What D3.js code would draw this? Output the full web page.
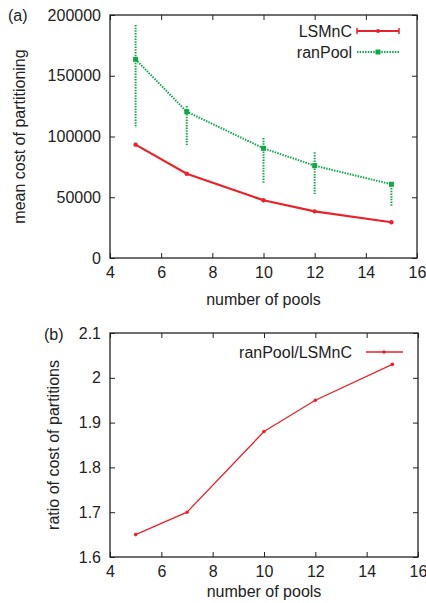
<!DOCTYPE html>
<html>
<head>
<meta charset="utf-8">
<script src="https://cdn.jsdelivr.net/npm/d3@7"></script>
<style>
  body { margin: 0; background: #fff; }
  svg { font-family: "Liberation Sans", Arial, sans-serif; }
</style>
</head>
<body>
<svg width="426" height="603"></svg>
<script>
const pools = [5, 7, 10, 12, 15];
const lsmncCost = [93300, 69400, 47500, 38400, 29400];
const ranPoolCost = [163500, 120400, 90300, 76000, 60700];
const ranPoolHigh = [191800, 125100, 98800, 87000, 62000];
const ranPoolLow = [107200, 93000, 61700, 52700, 42800];
const costRatio = [1.65, 1.70, 1.88, 1.95, 2.03];

const xTicks = [4, 6, 8, 10, 12, 14, 16];
const costTicks = [0, 50000, 100000, 150000, 200000];
const ratioTicks = [1.6, 1.7, 1.8, 1.9, 2.0, 2.1];

const red = '#e8232b';
const green = '#12a84a';
const fs = 16;

const svg = d3.select('svg');
svg.append('rect').attr('width', 426).attr('height', 603).attr('fill', '#fff');

const drawFrame = (g, xScale, yScale, yTicks, yFmt, innerW, innerH) => {
    const tick = 5;
    g.append('g').attr('class', 'axis')
        .attr('transform', `translate(0,${innerH})`)
        .call(d3.axisBottom(xScale).tickValues(xTicks).tickSize(-tick).tickPadding(9).tickFormat(d3.format('d')));
    g.append('g').attr('class', 'axis')
        .call(d3.axisTop(xScale).tickValues(xTicks).tickSize(-tick).tickFormat(''));
    g.append('g').attr('class', 'axis')
        .call(d3.axisLeft(yScale).tickValues(yTicks).tickSize(-tick).tickPadding(9).tickFormat(yFmt));
    g.append('g').attr('class', 'axis')
        .attr('transform', `translate(${innerW},0)`)
        .call(d3.axisRight(yScale).tickValues(yTicks).tickSize(-tick).tickFormat(''));
    g.selectAll('.axis .domain').remove();
    g.selectAll('.axis line').attr('stroke', '#222').attr('stroke-width', 1);
    g.selectAll('.axis text').attr('font-size', fs).attr('fill', '#222')
        .attr('font-family', '"Liberation Sans", Arial, sans-serif');
    g.append('rect').attr('width', innerW).attr('height', innerH)
        .attr('fill', 'none').attr('stroke', '#222').attr('stroke-width', 1.3);
};

// ---- panel (a)
const a = {left: 110, top: 15, w: 307, h: 243};
const ga = svg.append('g').attr('transform', `translate(${a.left},${a.top})`);
const xA = d3.scaleLinear().domain([4, 16]).range([0, a.w]);
const yA = d3.scaleLinear().domain([0, 200000]).range([a.h, 0]);
drawFrame(ga, xA, yA, costTicks, d3.format('d'), a.w, a.h);

const lineA = (ys) => d3.line().x((d, i) => xA(pools[i])).y(d => yA(d))(ys);

// ranPool error bars
ga.selectAll('.err').data(pools).enter().append('line')
    .attr('x1', d => xA(d)).attr('x2', d => xA(d))
    .attr('y1', (d, i) => yA(ranPoolHigh[i])).attr('y2', (d, i) => yA(ranPoolLow[i]))
    .attr('stroke', green).attr('stroke-width', 2).attr('stroke-dasharray', '1.5,1.2');
ga.append('path').attr('d', lineA(ranPoolCost))
    .attr('fill', 'none').attr('stroke', green).attr('stroke-width', 2).attr('stroke-dasharray', '1.5,1.2');
ga.selectAll('.gpt').data(ranPoolCost).enter().append('rect')
    .attr('x', (d, i) => xA(pools[i]) - 2.5).attr('y', d => yA(d) - 2.5)
    .attr('width', 5).attr('height', 5).attr('fill', green);

ga.append('path').attr('d', lineA(lsmncCost))
    .attr('fill', 'none').attr('stroke', red).attr('stroke-width', 2.2);
ga.selectAll('.rpt').data(lsmncCost).enter().append('circle')
    .attr('cx', (d, i) => xA(pools[i])).attr('cy', d => yA(d)).attr('r', 2.2).attr('fill', red);

// legend (a)
const legA = svg.append('g');
legA.append('text').attr('x', 352).attr('y', 36.5).attr('text-anchor', 'end')
    .attr('font-size', fs).attr('fill', '#222').text('LSMnC');
legA.append('line').attr('x1', 357).attr('x2', 399).attr('y1', 31).attr('y2', 31)
    .attr('stroke', red).attr('stroke-width', 2.2);
[357, 399].forEach(x => legA.append('line').attr('x1', x).attr('x2', x).attr('y1', 28).attr('y2', 34)
    .attr('stroke', red).attr('stroke-width', 1.5));
legA.append('circle').attr('cx', 378).attr('cy', 31).attr('r', 2).attr('fill', red);
legA.append('text').attr('x', 352).attr('y', 57.5).attr('text-anchor', 'end')
    .attr('font-size', fs).attr('fill', '#222').text('ranPool');
legA.append('line').attr('x1', 357).attr('x2', 399).attr('y1', 52).attr('y2', 52)
    .attr('stroke', green).attr('stroke-width', 2).attr('stroke-dasharray', '1.5,1.2');
legA.append('rect').attr('x', 375.5).attr('y', 49.5).attr('width', 5).attr('height', 5).attr('fill', green);

svg.append('text').attr('x', 8).attr('y', 21).attr('font-size', fs).attr('fill', '#222').text('(a)');
svg.append('text').attr('transform', `translate(25,${a.top + a.h / 2}) rotate(-90)`)
    .attr('text-anchor', 'middle').attr('font-size', fs).attr('fill', '#222').text('mean cost of partitioning');
svg.append('text').attr('x', a.left + a.w / 2).attr('y', 305).attr('text-anchor', 'middle')
    .attr('font-size', fs).attr('fill', '#222').text('number of pools');

// ---- panel (b)
const b = {left: 110, top: 333, w: 308, h: 224};
const gb = svg.append('g').attr('transform', `translate(${b.left},${b.top})`);
const xB = d3.scaleLinear().domain([4, 16]).range([0, b.w]);
const yB = d3.scaleLinear().domain([1.6, 2.1]).range([b.h, 0]);
drawFrame(gb, xB, yB, ratioTicks, d => d3.format('.1f')(d).replace(/\.0$/, ''), b.w, b.h);

gb.append('path').attr('d', d3.line().x((d, i) => xB(pools[i])).y(d => yB(d))(costRatio))
    .attr('fill', 'none').attr('stroke', red).attr('stroke-width', 1.3);
gb.selectAll('.bpt').data(costRatio).enter().append('circle')
    .attr('cx', (d, i) => xB(pools[i])).attr('cy', d => yB(d)).attr('r', 1.8).attr('fill', red);

const legB = svg.append('g');
legB.append('text').attr('x', 352).attr('y', 357.5).attr('text-anchor', 'end')
    .attr('font-size', fs).attr('fill', '#222').text('ranPool/LSMnC');
legB.append('line').attr('x1', 366).attr('x2', 403).attr('y1', 352).attr('y2', 352)
    .attr('stroke', red).attr('stroke-width', 1.3);
legB.append('circle').attr('cx', 384).attr('cy', 352).attr('r', 1.8).attr('fill', red);

svg.append('text').attr('x', 44).attr('y', 340).attr('font-size', fs).attr('fill', '#222').text('(b)');
svg.append('text').attr('transform', `translate(59,${b.top + b.h / 2}) rotate(-90)`)
    .attr('text-anchor', 'middle').attr('font-size', fs).attr('fill', '#222').text('ratio of cost of partitions');
svg.append('text').attr('x', b.left + b.w / 2).attr('y', 597).attr('text-anchor', 'middle')
    .attr('font-size', fs).attr('fill', '#222').text('number of pools');
</script>
</body>
</html>
